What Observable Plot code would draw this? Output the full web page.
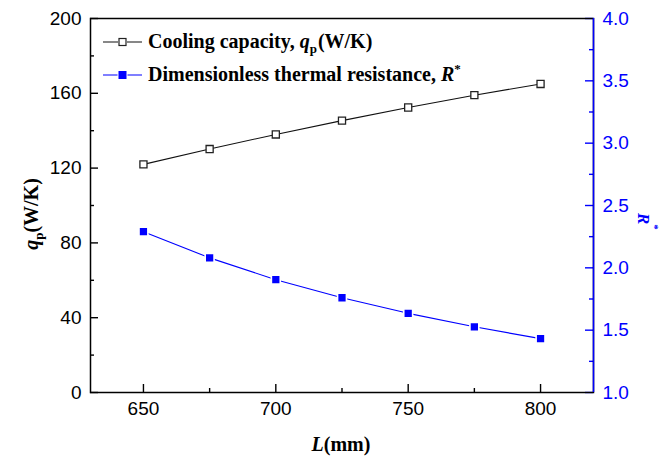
<!DOCTYPE html>
<html><head><meta charset="utf-8">
<script src="https://cdn.jsdelivr.net/npm/d3@7"></script>
<script src="https://cdn.jsdelivr.net/npm/@observablehq/plot@0.6"></script>
<style>
body{margin:0;background:#fff}
#chart{position:relative;width:672px;height:458px}
svg text{font-family:"Liberation Sans",Arial,sans-serif}
</style>
</head><body><div id="chart"></div>
<script>
// ---- data ----
const lengths = [650, 675, 700, 725, 750, 775, 800];
const coolingCapacity = [122.0, 130.2, 138.0, 145.4, 152.4, 159.0, 165.0];
const thermalResistance = [2.29, 2.08, 1.905, 1.76, 1.635, 1.527, 1.432];
const xTicks = [650, 700, 750, 800];
const xMinorTicks = [675, 725, 775];
const leftTicks = [0, 40, 80, 120, 160, 200];
const leftMinorTicks = [20, 60, 100, 140, 180];
const rightTicks = [1.0, 1.5, 2.0, 2.5, 3.0, 3.5, 4.0];
const rightMinorTicks = [1.25, 1.75, 2.25, 2.75, 3.25, 3.75];
const xDomain = [630, 820];
const leftDomain = [0, 200];
const rightDomain = [1, 4];
const seriesNames = ["Cooling capacity, ", "Dimensionless thermal resistance, "];

const BLUE = "#0000ff";
const W = 672, H = 458, ML = 90, MR = 79, MT = 18, MB = 66;
const innerW = W - ML - MR, innerH = H - MT - MB;
const toLeft = r => leftDomain[0] + (r - rightDomain[0]) * (leftDomain[1] - leftDomain[0]) / (rightDomain[1] - rightDomain[0]);
const toRight = q => rightDomain[0] + (q - leftDomain[0]) * (rightDomain[1] - rightDomain[0]) / (leftDomain[1] - leftDomain[0]);

const qData = lengths.map((L, i) => ({L, v: coolingCapacity[i]}));
const rData = lengths.map((L, i) => ({L, v: toLeft(thermalResistance[i])}));

// inward tick lengths, converted from pixels to data units
const pxX = px => px * (xDomain[1] - xDomain[0]) / innerW;
const pxY = px => px * (leftDomain[1] - leftDomain[0]) / innerH;
const tickMark = (vals, side, len, color) => {
  const rows = vals.map(v => ({v}));
  const opts = {stroke: color, strokeWidth: 1.4};
  if (side === "bottom") return Plot.ruleX(rows, {...opts, x: "v", y1: () => leftDomain[0], y2: () => leftDomain[0] + pxY(len)});
  if (side === "left") return Plot.ruleY(rows, {...opts, y: "v", x1: () => xDomain[0], x2: () => xDomain[0] + pxX(len)});
  return Plot.ruleY(rows, {...opts, y: "v", x1: () => xDomain[1] - pxX(len), x2: () => xDomain[1]});
};

const chart = Plot.plot({
  width: W, height: H,
  marginLeft: ML, marginRight: MR, marginTop: MT, marginBottom: MB,
  style: {fontSize: "19px", fontFamily: "Liberation Sans, Arial, sans-serif", background: "white"},
  x: {domain: xDomain},
  y: {domain: leftDomain},
  marks: [
    Plot.axisX(xTicks, {tickSize: 0, tickPadding: 9, label: null, fontSize: 19, fill: "black"}),
    Plot.axisY(leftTicks, {anchor: "left", tickSize: 0, tickPadding: 9, label: null, fontSize: 19, fill: "black"}),
    Plot.axisY(rightTicks.map(toLeft), {anchor: "right", tickSize: 0, tickPadding: 9, label: null, fontSize: 19, fill: BLUE,
      tickFormat: d => toRight(d).toFixed(1)}),
    tickMark(xTicks, "bottom", 8, "black"),
    tickMark(xMinorTicks, "bottom", 4, "black"),
    tickMark(leftTicks, "left", 8, "black"),
    tickMark(leftMinorTicks, "left", 4, "black"),
    tickMark(rightTicks.map(toLeft), "right", 8, BLUE),
    tickMark(rightMinorTicks.map(toLeft), "right", 4, BLUE),
    Plot.frame({stroke: "black", strokeWidth: 1.5}),
    Plot.ruleX([xDomain[1]], {stroke: BLUE, strokeWidth: 1.5}),
    Plot.line(qData, {x: "L", y: "v", stroke: "#111", strokeWidth: 1.1}),
    Plot.dot(qData, {x: "L", y: "v", symbol: "square", r: 4, fill: "white", stroke: "#222", strokeWidth: 1.3}),
    Plot.line(rData, {x: "L", y: "v", stroke: BLUE, strokeWidth: 1.1}),
    Plot.dot(rData, {x: "L", y: "v", symbol: "square", r: 5, fill: BLUE, stroke: "white", strokeWidth: 1.6})
  ]
});
document.getElementById("chart").appendChild(chart);

// ---- titles and legend ----
const svg = d3.select(chart);
const serif = '"Liberation Serif","Times New Roman",serif';

const xt = svg.append("text").attr("x", 341).attr("y", 451).attr("text-anchor", "middle")
  .style("font-family", serif).style("font-weight", "bold").style("font-size", "20px");
xt.append("tspan").style("font-style", "italic").text("L");
xt.append("tspan").text("(mm)");

const yt = svg.append("text").attr("transform", "translate(38,214) rotate(-90)").attr("text-anchor", "middle")
  .style("font-family", serif).style("font-weight", "bold").style("font-size", "20px");
yt.append("tspan").style("font-style", "italic").text("q");
yt.append("tspan").attr("dy", 5).style("font-size", "13px").text("p");
yt.append("tspan").attr("dy", -5).text("(W/K)");

const rt = svg.append("text").attr("transform", "translate(638,213) rotate(90)").attr("text-anchor", "start")
  .style("font-family", serif).style("font-weight", "bold").style("font-size", "17px").attr("fill", BLUE);
rt.append("tspan").style("font-style", "italic").text("R");
rt.append("tspan").attr("dy", -13).style("font-size", "11px").text("*");

const legendRows = [
  {y: 42, color: "#111", fill: "white", stroke: "#222", r: 3.5},
  {y: 75, color: BLUE, fill: BLUE, stroke: "none", r: 4}
];
legendRows.forEach((row, i) => {
  svg.append("line").attr("x1", 103).attr("x2", 142).attr("y1", row.y).attr("y2", row.y)
    .attr("stroke", row.color).attr("stroke-width", 1.1);
  svg.append("rect").attr("x", 122.5 - row.r - 1).attr("y", row.y - row.r - 1).attr("width", 2 * row.r + 2).attr("height", 2 * row.r + 2)
    .attr("fill", "white");
  svg.append("rect").attr("x", 122.5 - row.r).attr("y", row.y - row.r).attr("width", 2 * row.r).attr("height", 2 * row.r)
    .attr("fill", row.fill).attr("stroke", row.stroke).attr("stroke-width", 1.2);
  const t = svg.append("text").attr("x", 148).attr("y", row.y + 6).attr("text-anchor", "start")
    .style("font-family", serif).style("font-weight", "bold").style("font-size", "20px").attr("fill", "black");
  t.append("tspan").text(seriesNames[i]);
  if (i === 0) {
    t.append("tspan").style("font-style", "italic").text("q");
    t.append("tspan").attr("dy", 5).style("font-size", "13px").text("p");
    t.append("tspan").attr("dy", -5).attr("dx", 1).text("(W/K)");
  } else {
    t.append("tspan").style("font-style", "italic").text("R");
    t.append("tspan").attr("dy", -8).style("font-size", "13px").text("*");
  }
});
</script>
</body></html>
